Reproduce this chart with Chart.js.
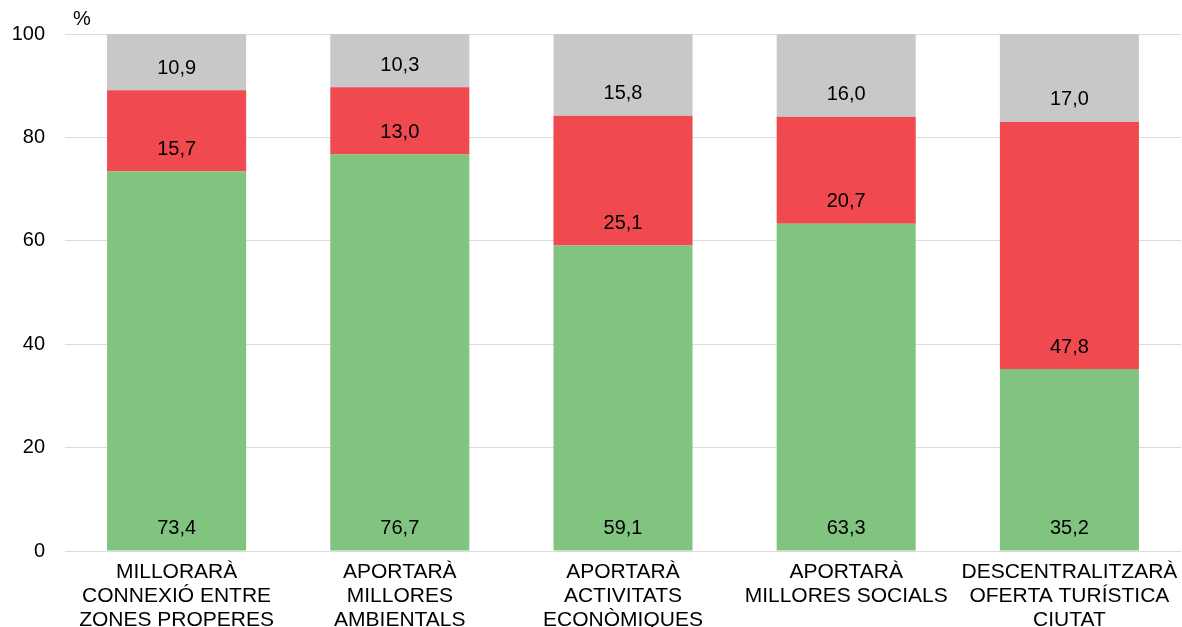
<!DOCTYPE html>
<html>
<head>
<meta charset="utf-8">
<script src="https://cdn.jsdelivr.net/npm/chart.js@4"></script>
<style>
  html, body { margin: 0; padding: 0; background: #fff; }
  #wrap { position: relative; width: 1182px; height: 627px; }
</style>
</head>
<body>
<div id="wrap"><canvas id="chart"></canvas></div>
<script>
const categories = [
  ['MILLORARÀ', 'CONNEXIÓ ENTRE', 'ZONES PROPERES'],
  ['APORTARÀ', 'MILLORES', 'AMBIENTALS'],
  ['APORTARÀ', 'ACTIVITATS', 'ECONÒMIQUES'],
  ['APORTARÀ', 'MILLORES SOCIALS'],
  ['DESCENTRALITZARÀ', 'OFERTA TURÍSTICA', 'CIUTAT']
];
const greenValues = [73.4, 76.7, 59.1, 63.3, 35.2];
const redValues = [15.7, 13.0, 25.1, 20.7, 47.8];
const greyValues = [10.9, 10.3, 15.8, 16.0, 17.0];
const yTicks = [0, 20, 40, 60, 80, 100];

const FONT = 'Liberation Sans, Arial, sans-serif';

// value labels sit just above the base of each segment
const valueLabels = {
  id: 'valueLabels',
  afterDatasetsDraw(chart) {
    const ctx = chart.ctx;
    ctx.save();
    ctx.font = '20px ' + FONT;
    ctx.fillStyle = '#000';
    ctx.textAlign = 'center';
    ctx.textBaseline = 'middle';
    chart.data.datasets.forEach((ds, i) => {
      chart.getDatasetMeta(i).data.forEach((bar, j) => {
        const txt = ds.data[j].toFixed(1).replace('.', ',');
        ctx.fillText(txt, bar.x, bar.base - 22);
      });
    });
    ctx.restore();
  }
};

// "%" unit above the y axis
const unitLabel = {
  id: 'unitLabel',
  afterDraw(chart) {
    const ctx = chart.ctx;
    const area = chart.chartArea;
    ctx.save();
    ctx.font = '20px ' + FONT;
    ctx.fillStyle = '#000';
    ctx.textAlign = 'center';
    ctx.textBaseline = 'middle';
    ctx.fillText('%', area.left + 17, area.top - 15);
    ctx.restore();
  }
};

new Chart(document.getElementById('chart'), {
  type: 'bar',
  data: {
    labels: categories,
    datasets: [
      { label: 'green', data: greenValues, backgroundColor: '#80c480' },
      { label: 'red', data: redValues, backgroundColor: '#f04950' },
      { label: 'grey', data: greyValues, backgroundColor: '#c8c8c8' }
    ]
  },
  options: {
    responsive: true,
    maintainAspectRatio: false,
    animation: false,
    layout: { padding: { top: 34, right: 1, left: 0, bottom: 0 } },
    datasets: { bar: { categoryPercentage: 1, barPercentage: 0.623 } },
    plugins: { legend: { display: false }, tooltip: { enabled: false } },
    scales: {
      x: {
        stacked: true,
        grid: { display: false, drawTicks: false },
        border: { display: false },
        ticks: {
          color: '#000',
          maxRotation: 0,
          autoSkip: false,
          padding: 9,
          font: { family: FONT, size: 21, lineHeight: 24 / 21 }
        },
        afterFit(scale) {
          scale.height = 76;
          // let the long last label run to the canvas edge, as in the original
          scale.paddingLeft = 0;
          scale.paddingRight = 0;
        }
      },
      y: {
        stacked: true,
        min: 0,
        max: 100,
        afterBuildTicks(scale) { scale.ticks = yTicks.map(v => ({ value: v })); },
        grid: { color: '#dcdcdc', lineWidth: 1, drawTicks: false },
        border: { display: false },
        ticks: {
          color: '#000',
          padding: 20,
          font: { family: FONT, size: 20 }
        },
        afterFit(scale) { scale.width = 65; }
      }
    }
  },
  plugins: [valueLabels, unitLabel]
});
</script>
</body>
</html>
